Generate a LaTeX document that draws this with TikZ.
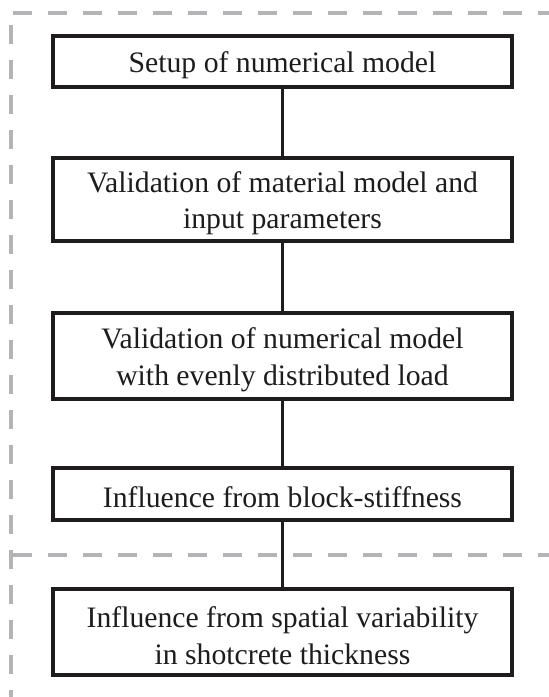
\documentclass[tikz,border=0pt]{standalone}
\usepackage{fontspec}
\setmainfont{Liberation Serif}
\definecolor{dashgray}{RGB}{180,180,182}
\definecolor{boxblack}{RGB}{30,28,28}
\begin{document}
\begin{tikzpicture}[x=1pt,y=-1pt,
  stepbox/.style={draw=boxblack, line width=3.2pt, minimum width=459pt, inner sep=0pt},
  steptext/.style={inner sep=0pt, align=center, font=\fontsize{29.7}{36.5}\selectfont, text=boxblack},
  conn/.style={draw=boxblack, line width=2.6pt},
  frame/.style={draw=dashgray, line width=3.8pt, dash pattern=on 19pt off 16pt}]
\useasboundingbox (0,0) rectangle (549,697);
\fill[white] (0,0) rectangle (549,697);
% dashed frame
\draw[frame] (12.5,13) -- (549,13);
\draw[frame] (11,25) -- (11,697);
\draw[frame] (13,555) -- (549,555);
% boxes
\node[stepbox, minimum height=51pt] (b1) at (282.5,61.5) {};
\node[stepbox, minimum height=83pt] (b2) at (282.5,199.5) {};
\node[stepbox, minimum height=86pt] (b3) at (282.5,356) {};
\node[stepbox, minimum height=52pt] (b4) at (282.5,494) {};
\node[stepbox, minimum height=86pt] (b5) at (282.5,632) {};
% texts
\node[steptext] (t1) at ([yshift=-3.5pt]b1.center) {Setup of numerical model};
\node[steptext] (t2) at ([yshift=-3.5pt]b2.center) {Validation of material model and\\input parameters};
\node[steptext] (t3) at ([yshift=-3.5pt]b3.center) {Validation of numerical model\\with evenly distributed load};
\node[steptext] (t4) at ([yshift=-3.5pt]b4.center) {Influence from block-stiffness};
\node[steptext] (t5) at ([yshift=-3.5pt]b5.center) {Influence from spatial variability\\in shotcrete thickness};
% connectors
\draw[conn] (b1.south) -- (b2.north);
\draw[conn] (b2.south) -- (b3.north);
\draw[conn] (b3.south) -- (b4.north);
\draw[conn] (b4.south) -- (b5.north);
\end{tikzpicture}
\end{document}
